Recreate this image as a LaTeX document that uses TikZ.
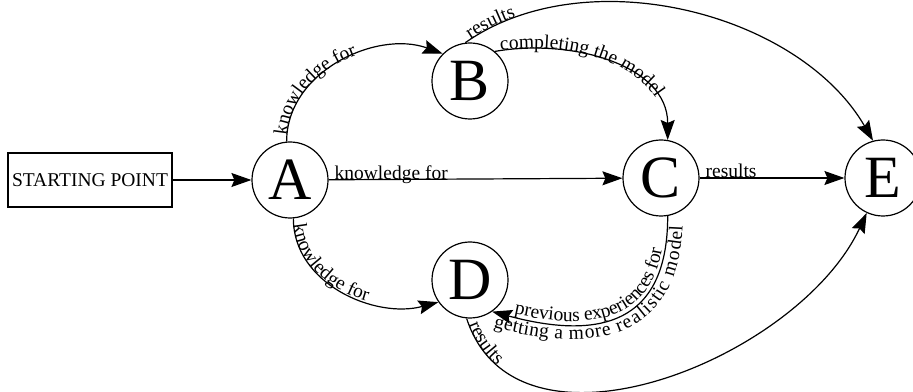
\documentclass[tikz,border=0pt]{standalone}
\usepackage{fontspec}
\setmainfont{Liberation Serif}
\usetikzlibrary{arrows.meta, decorations.text}

\newcommand\edgefont{\fontsize{19.5}{23}\selectfont}

\tikzset{
  circ/.style={draw, circle, line width=1.2pt, minimum size=76pt, inner sep=0pt, font=\fontsize{60}{64}\selectfont},
  startbox/.style={draw, rectangle, line width=1.2pt, minimum width=164pt, minimum height=54pt, inner sep=0pt, font=\edgefont},
  edge/.style={-{Stealth[length=20pt, width=14pt, inset=3pt]}, line width=1.2pt},
  lbl/.style={postaction={decorate, decoration={text along path, text={|\edgefont|#1}, text align={left indent=6pt}}}},
}

\begin{document}
\begin{tikzpicture}[x=1pt, y=1pt]
  \useasboundingbox (0,0) rectangle (913,391);
  \node[startbox] (start) at (90,211) {STARTING POINT};
  \node[circ] (a) at (290,211) {A};
  \node[circ] (b) at (470,310) {B};
  \node[circ] (c) at (661,213) {C};
  \node[circ] (d) at (470,111) {D};
  \node[circ] (e) at (883,213) {E};

  \draw[edge] (start) -- (a);
  \draw[edge, lbl={knowledge for}] (a) -- (c);
  \draw[edge, lbl={results}] (c) -- (e);
  \draw[edge, lbl={knowledge for}] (a.95) to[out=90, in=160] (b.135);
  \draw[edge, lbl={completing the model}] (b.50) to[out=10, in=90] (c.80);
  \draw[edge, lbl={results}] (b.97) to[out=35, in=120, looseness=0.9] (e.105);
  \draw[edge, lbl={knowledge for}] (a.-85) to[out=-90, in=-165] (d.-145);
  \draw[edge, lbl={results}] (d.-95) to[out=-72, in=-115] (e.-115);
  % feedback from C back to D
  \draw[edge] (c.-80) to[out=-90, in=-15, looseness=1.4] (d.-55);
  \path[postaction={decorate, decoration={text along path, raise=3pt,
          text={|\edgefont|previous experiences for}, text align={left indent=22pt}}},
        postaction={decorate, decoration={text along path, raise=-15pt,
          text={|\edgefont|getting a more realistic model}, text align={left indent=5pt}}}]
    (d.-55) to[out=-15, in=-90, looseness=1.4] (c.-80);
\end{tikzpicture}
\end{document}
